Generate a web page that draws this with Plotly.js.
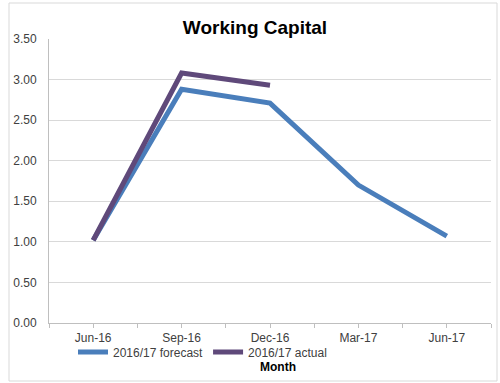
<!DOCTYPE html>
<html><head><meta charset="utf-8">
<script src="https://cdn.plot.ly/plotly-3.0.1.min.js"></script>
<style>html,body{margin:0;padding:0;background:#fff}#chart{width:500px;height:383px}</style>
</head><body><div id="chart"></div>
<script>
const months = ["Jun-16","Sep-16","Dec-16","Mar-17","Jun-17"];
const forecast = [1.02, 2.88, 2.71, 1.70, 1.07];
const actual = [1.02, 3.08, 2.93];
const idx = months.map((_, i) => i);
const font = "Liberation Sans, Arial, sans-serif";
const traces = [
  {x: idx, y: forecast, name: "2016/17 forecast", mode: "lines",
   line: {color: "#4A7EBB", width: 5}},
  {x: idx.slice(0, actual.length), y: actual, name: "2016/17 actual", mode: "lines",
   line: {color: "#5F497A", width: 5}}
];
const L = 49, R = 491, T = 39, B = 323;
const pw = R - L, ph = B - T;
const layout = {
  width: 500, height: 383,
  margin: {l: L, r: 500 - R, t: T, b: 383 - B},
  paper_bgcolor: "#fff", plot_bgcolor: "#fff",
  font: {family: font, size: 12, color: "#404040"},
  title: {text: "<b>Working Capital</b>", x: 0.51, xanchor: "center", y: 1 - 27/383, yanchor: "middle",
          font: {family: font, size: 19, color: "#000"}},
  xaxis: {range: [-0.5, 4.5], tickvals: idx, ticktext: months, showgrid: false, zeroline: false,
          showline: true, linecolor: "#BFBFBF", linewidth: 1,
          ticks: "outside", ticklen: 4, tickcolor: "#BFBFBF",
          minor: {dtick: 0.5, tick0: -0.5, ticks: "outside", ticklen: 4, tickcolor: "#BFBFBF", showgrid: false},
          tickfont: {size: 12, color: "#404040"}, fixedrange: true},
  yaxis: {range: [0, 3.5], dtick: 0.5, tickformat: ".2f", showgrid: true, gridcolor: "#D9D9D9", gridwidth: 1,
          zeroline: false, showline: true, linecolor: "#BFBFBF", linewidth: 1, ticks: "",
          ticklabelstandoff: 9,
          tickfont: {size: 12, color: "#404040"}, fixedrange: true},
  showlegend: true,
  legend: {orientation: "h", x: (73 - L)/pw, xanchor: "left", y: (B - 352)/ph, yanchor: "middle",
           font: {size: 12, color: "#404040"}, itemwidth: 30, tracegroupgap: 0, bgcolor: "rgba(0,0,0,0)"},
  annotations: [{text: "<b>Month</b>", xref: "paper", yref: "paper", x: (278 - L)/pw, y: (B - 367)/ph,
                 showarrow: false, xanchor: "center", yanchor: "middle", font: {size: 12, color: "#000"}}],
  shapes: [{type: "rect", xref: "paper", yref: "paper",
            x0: (9 - L)/pw, x1: (497 - L)/pw, y0: (B - 381)/ph, y1: (B - 3)/ph,
            line: {color: "#D9D9D9", width: 1}, fillcolor: "rgba(0,0,0,0)", layer: "below"}]
};
Plotly.newPlot("chart", traces, layout, {displayModeBar: false, staticPlot: true});
</script></body></html>
